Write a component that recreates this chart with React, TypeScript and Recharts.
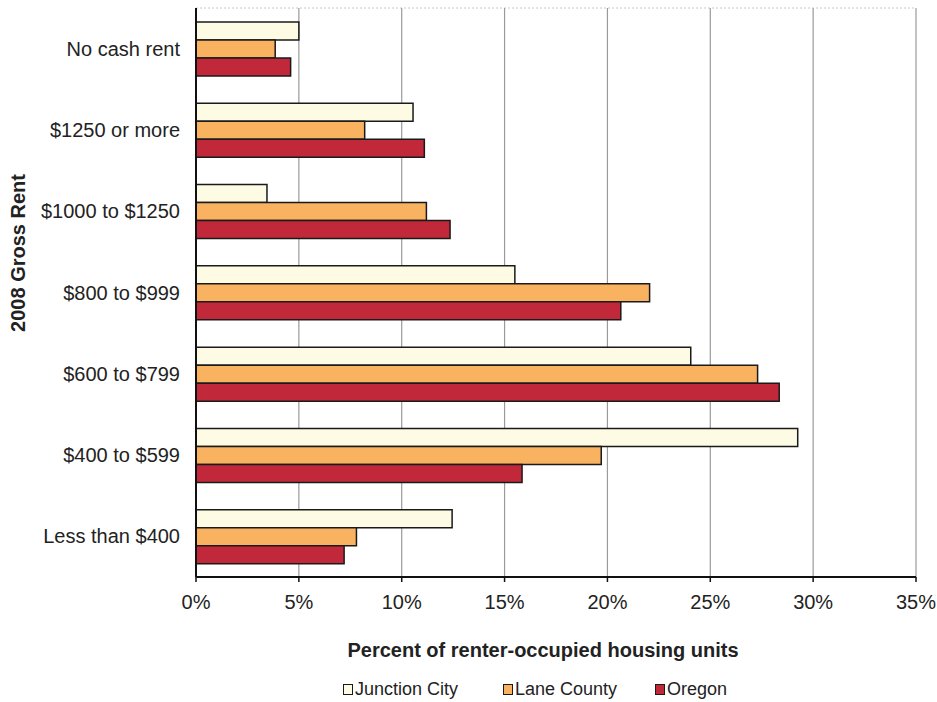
import React from "react";
import { BarChart, Bar, XAxis, YAxis, CartesianGrid } from "recharts";

const categories = [
  "No cash rent",
  "$1250 or more",
  "$1000 to $1250",
  "$800 to $999",
  "$600 to $799",
  "$400 to $599",
  "Less than $400",
];
const junctionCity = [5.0, 10.55, 3.45, 15.5, 24.05, 29.25, 12.45];
const laneCounty = [3.85, 8.2, 11.2, 22.05, 27.3, 19.7, 7.8];
const oregon = [4.6, 11.1, 12.35, 20.65, 28.35, 15.85, 7.2];
const xTicks = [0, 5, 10, 15, 20, 25, 30, 35];

const SERIES = [
  { key: "jc", name: "Junction City", color: "#fdfbe4" },
  { key: "lc", name: "Lane County", color: "#f8b260" },
  { key: "or", name: "Oregon", color: "#c1283a" },
];

const FONT = "'Liberation Sans', Arial, sans-serif";

const data = categories.map((c, i) => ({
  cat: c,
  jc: junctionCity[i],
  lc: laneCounty[i],
  or: oregon[i],
}));

export default function App() {
  return (
    <div style={{ position: "absolute", left: 0, top: 0, width: 937, height: 702, background: "#fff", fontFamily: FONT }}>
      <BarChart
        layout="vertical"
        width={937}
        height={702}
        data={data}
        margin={{ top: 8, right: 21, left: 0, bottom: 0 }}
        barGap={0}
        barSize={18}
      >
        <CartesianGrid vertical={false} horizontalPoints={[8]} stroke="#c8c8c8" strokeDasharray="2 2" />
        <CartesianGrid horizontal={false} stroke="#9a9a9a" strokeWidth={1.2} />
        <XAxis
          type="number"
          domain={[0, 35]}
          ticks={xTicks}
          tickFormatter={(v) => `${v}%`}
          height={125}
          tick={{ fontSize: 20, fill: "#222", fontFamily: FONT }}
          tickMargin={13}
          tickSize={5}
          axisLine={{ stroke: "#111", strokeWidth: 2 }}
          tickLine={{ stroke: "#111", strokeWidth: 1.5 }}
          label={{
            value: "Percent of renter-occupied housing units",
            content: () => (
              <text
                x={543}
                y={650}
                textAnchor="middle"
                dominantBaseline="central"
                style={{ fontSize: 20, fontWeight: "bold", fill: "#222", fontFamily: FONT }}
              >
                Percent of renter-occupied housing units
              </text>
            ),
          }}
        />
        <YAxis
          type="category"
          dataKey="cat"
          width={196}
          tick={{ fontSize: 20, fill: "#222", fontFamily: FONT }}
          tickLine={false}
          tickMargin={10}
          axisLine={{ stroke: "#111", strokeWidth: 2 }}
          label={{
            value: "2008 Gross Rent",
            content: () => (
              <text
                x={18}
                y={253}
                transform="rotate(-90 18 253)"
                textAnchor="middle"
                dominantBaseline="central"
                style={{ fontSize: 20, fontWeight: "bold", fill: "#222", fontFamily: FONT }}
              >
                2008 Gross Rent
              </text>
            ),
          }}
        />
        {SERIES.map((s) => (
          <Bar
            key={s.key}
            dataKey={s.key}
            name={s.name}
            fill={s.color}
            stroke="#1a1a1a"
            strokeWidth={1.5}
            isAnimationActive={false}
          />
        ))}
      </BarChart>
      <div style={{ position: "absolute", top: 679, left: 0, width: 937, height: 22, fontSize: 18, color: "#222" }}>
        {SERIES.map((s, i) => (
          <div
            key={s.key}
            style={{ position: "absolute", left: [343, 503, 655][i], top: 0, display: "flex", alignItems: "center" }}
          >
            <span
              style={{
                display: "inline-block",
                width: 8,
                height: 9,
                background: s.color,
                border: "1.5px solid #1a1a1a",
                marginRight: 2,
              }}
            />
            <span>{s.name}</span>
          </div>
        ))}
      </div>
    </div>
  );
}
